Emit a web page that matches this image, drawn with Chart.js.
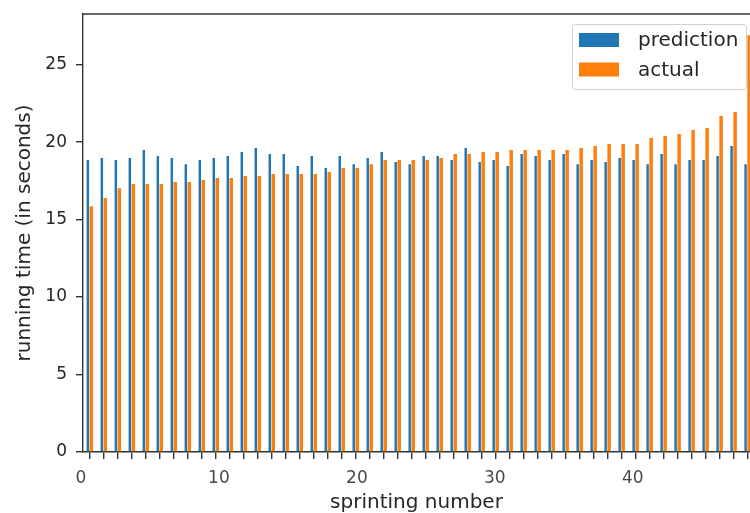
<!DOCTYPE html>
<html><head><meta charset="utf-8">
<script src="https://cdn.jsdelivr.net/npm/chart.js@4"></script>
<style>html,body{margin:0;padding:0;background:#fff;overflow:hidden;}canvas{display:block;}</style>
</head><body>
<canvas id="c" width="750" height="513" style="width:750px;height:513px"></canvas>
<script>
const categories = [0,1,2,3,4,5,6,7,8,9,10,11,12,13,14,15,16,17,18,19,20,21,22,23,24,25,26,27,28,29,30,31,32,33,34,35,36,37,38,39,40,41,42,43,44,45,46,47];
const prediction = [18.84,18.97,18.84,18.97,19.5,19.1,18.97,18.58,18.84,18.97,19.1,19.36,19.62,19.23,19.23,18.46,19.1,18.33,19.1,18.58,18.97,19.36,18.71,18.58,19.1,19.1,18.84,19.62,18.71,18.84,18.46,19.23,19.1,18.84,19.23,18.58,18.84,18.71,18.97,18.84,18.58,19.23,18.58,18.84,18.84,19.1,19.75,18.58];
const actual = [15.86,16.39,17.03,17.29,17.29,17.29,17.42,17.42,17.55,17.68,17.68,17.81,17.81,17.94,17.94,17.94,17.94,18.07,18.33,18.33,18.58,18.84,18.84,18.84,18.84,18.97,19.23,19.23,19.36,19.36,19.49,19.49,19.49,19.49,19.49,19.62,19.75,19.88,19.88,19.88,20.26,20.39,20.52,20.78,20.91,21.68,21.94,26.9];
const xTickLabels = [0,10,20,30,40];
const yTickValues = [0,5,10,15,20,25];
const seriesNames = ['prediction','actual'];
const seriesColors = ['#1f77b4','#ff7f0e'];

const FONT = 'DejaVu Sans';
const AX = '#333333';
const TXT = '#262626';

const legendPlugin = {
  id: 'mplLegend',
  afterDraw(chart) {
    const ctx = chart.ctx, a = chart.chartArea;
    const ds = chart.data.datasets;
    const bx = a.right - 177.5, by = a.top + 10.5, bw = 174, bh = 65;
    ctx.save();
    ctx.beginPath();
    ctx.roundRect(bx, by, bw, bh, 3);
    ctx.fillStyle = 'rgba(255,255,255,0.85)';
    ctx.fill();
    ctx.strokeStyle = '#d0d0d0';
    ctx.lineWidth = 1;
    ctx.stroke();
    ctx.font = '20px "' + FONT + '"';
    ctx.textBaseline = 'middle';
    ds.forEach((d, i) => {
      const y = by + 8.5 + i * 29.5;
      ctx.fillStyle = d.backgroundColor;
      ctx.fillRect(bx + 6.5, y, 40, 14);
      ctx.fillStyle = TXT;
      ctx.fillText(d.label, bx + 65.5, y + 8);
    });
    ctx.restore();
  }
};

const topSpine = {
  id: 'topSpine',
  afterDraw(chart) {
    const ctx = chart.ctx, a = chart.chartArea;
    ctx.save();
    ctx.strokeStyle = AX;
    ctx.lineWidth = 1.4;
    ctx.beginPath();
    ctx.moveTo(a.left - 0.7, a.top);
    ctx.lineTo(a.right, a.top);
    ctx.stroke();
    ctx.restore();
  }
};

new Chart(document.getElementById('c'), {
  type: 'bar',
  data: {
    datasets: [
      { label: seriesNames[0], data: categories.map((c, i) => ({x: c, y: prediction[i]})),
        backgroundColor: seriesColors[0], borderWidth: 0, categoryPercentage: 0.5, barPercentage: 0.7, xAxisID: 'x' },
      { label: seriesNames[1], data: categories.map((c, i) => ({x: c, y: actual[i]})),
        backgroundColor: seriesColors[1], borderWidth: 0, categoryPercentage: 0.5, barPercentage: 1.0, xAxisID: 'x' }
    ]
  },
  options: {
    responsive: false,
    animation: false,
    layout: { padding: { top: 14, right: 0, left: 0, bottom: 0 } },
    plugins: { legend: { display: false }, tooltip: { enabled: false } },
    scales: {
      x: {
        type: 'linear', position: 'bottom', weight: 0, offset: false,
        min: -0.471, max: 47.19,
        afterBuildTicks: s => { s.ticks = categories.map(v => ({value: v})); },
        afterFit: s => { s.height = 7; s.paddingLeft = 0; s.paddingRight = 0; },
        ticks: { display: false, autoSkip: false },
        grid: { display: true, offset: false, drawOnChartArea: false, drawTicks: true, tickLength: 7, color: AX, lineWidth: 1.4 },
        border: { display: true, color: AX, width: 1.4 }
      },
      x2: {
        type: 'linear', position: 'bottom', weight: 1, offset: false,
        min: 0.145, max: 48.5,
        afterBuildTicks: s => { s.ticks = xTickLabels.map(v => ({value: v})); },
        afterFit: s => { s.height = 54; s.paddingLeft = 0; s.paddingRight = 0; },
        ticks: { autoSkip: false, padding: 9, color: '#4a4a4a', font: { family: FONT, size: 17 } },
        grid: { display: false, offset: false, drawTicks: false },
        border: { display: false },
        title: { display: true, text: 'sprinting number', color: TXT, font: { family: FONT, size: 20 }, padding: { top: 0, bottom: -2 } }
      },
      y: {
        type: 'linear', position: 'left',
        min: 0, max: 28.27,
        afterBuildTicks: s => { s.ticks = yTickValues.map(v => ({value: v})); },
        afterFit: s => { s.width = 83; s.paddingTop = 0; s.paddingBottom = 0; },
        ticks: { padding: 9, color: TXT, font: { family: FONT, size: 17 } },
        grid: { display: true, drawOnChartArea: false, drawTicks: true, tickLength: 7, color: AX, lineWidth: 1.4 },
        border: { display: true, color: AX, width: 1.4 },
        title: { display: true, text: 'running time (in seconds)', color: TXT, font: { family: FONT, size: 20 }, padding: { top: 13, bottom: 0 } }
      }
    }
  },
  plugins: [legendPlugin, topSpine]
});
</script>
</body></html>
